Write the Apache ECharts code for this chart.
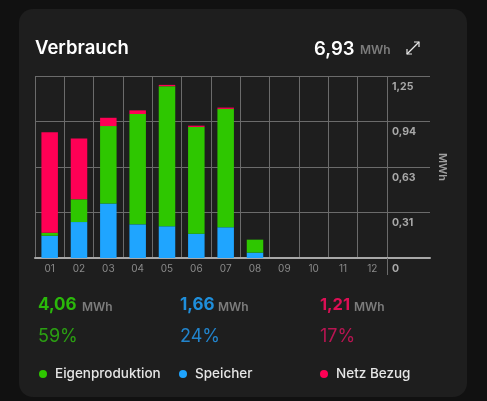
<!DOCTYPE html>
<html><head><meta charset="utf-8">
<style>html,body{margin:0;padding:0;background:#111111}#c{width:487px;height:401px}</style>
<script src="https://cdn.jsdelivr.net/npm/echarts@6/dist/echarts.min.js"></script>
</head><body><div id="c"></div>
<script>
const months = ['01','02','03','04','05','06','07','08','09','10','11','12'];
const speicher = [0.153,0.247,0.375,0.231,0.218,0.167,0.211,0.037,0,0,0,0];
const eigen = [0.020,0.156,0.531,0.758,0.962,0.733,0.813,0.089,0,0,0,0];
const netz = [0.690,0.417,0.057,0.025,0.009,0.009,0.009,0,0,0,0,0];
const yMax = 1.25;
const yTicks = {0:'0',0.3125:'0,31',0.625:'0,63',0.9375:'0,94',1.25:'1,25'};
const GREEN='#2ec700', BLUE='#1fa5ff', RED='#ff0055';
const FF='Inter, "Noto Sans", sans-serif';
const gl={color:'#6b6b6b',width:1};
const chart=echarts.init(document.getElementById('c'),null,{renderer:'canvas'});
function txt(x,y,t,size,weight,fill,extra){return {type:'text',x,y,silent:true,style:Object.assign({text:t,fontFamily:FF,fontSize:size,fontWeight:weight,fill,textVerticalAlign:'middle',verticalAlign:'middle'},extra||{})};}
const leg=(name,left)=>({data:[{name,icon:'circle'}],left,top:362,itemWidth:8,itemHeight:8,itemGap:8,textStyle:{color:'#e6e6e6',fontFamily:FF,fontSize:13.5,fontWeight:500,padding:[0,0,0,3]},selectedMode:false});
chart.setOption({
  animation:false,
  backgroundColor:'#111111',
  grid:[{left:35,width:352,top:76,height:182},{left:387,width:43,top:76,height:182}],
  xAxis:[
    {type:'category',gridIndex:0,data:months,axisTick:{show:false},
     axisLine:{lineStyle:{color:'#a8a8a8',width:2}},
     axisLabel:{color:'#8a8a8a',fontSize:10,fontFamily:FF,margin:6,interval:0},
     splitLine:{show:true,interval:0,lineStyle:gl}},
    {type:'value',gridIndex:1,min:0,max:1,axisLabel:{show:false},splitLine:{show:false},
     axisLine:{lineStyle:{color:'#a8a8a8',width:2}},
     axisTick:{show:true,customValues:[0],length:17,lineStyle:gl}}
  ],
  yAxis:[
    {type:'value',gridIndex:0,min:0,max:yMax,interval:0.3125,axisLabel:{show:false},axisLine:{show:false},axisTick:{show:false},splitLine:{lineStyle:gl}},
    {type:'value',gridIndex:1,position:'right',min:0,max:yMax,interval:0.3125,axisLine:{show:false},axisTick:{show:false},splitLine:{lineStyle:gl},
     axisLabel:{inside:true,margin:38,align:'left',verticalAlign:'top',padding:[5,0,0,0],color:'#a8a8a8',fontSize:10.5,fontWeight:700,fontFamily:FF,formatter:v=>yTicks[v]},
     name:'MWh',nameLocation:'middle',nameGap:7,nameRotate:-90,nameTextStyle:{color:'#a0a0a0',fontSize:11,fontWeight:600,fontFamily:FF}}
  ],
  legend:[leg('Eigenproduktion',34),leg('Speicher',174),leg('Netz Bezug',315)],
  series:[
    {name:'Speicher',type:'bar',stack:'a',data:speicher,barWidth:16.5,itemStyle:{color:BLUE},xAxisIndex:0,yAxisIndex:0},
    {name:'Eigenproduktion',type:'bar',stack:'a',data:eigen,barWidth:16.5,itemStyle:{color:GREEN},xAxisIndex:0,yAxisIndex:0},
    {name:'Netz Bezug',type:'bar',stack:'a',data:netz,barWidth:16.5,itemStyle:{color:RED},xAxisIndex:0,yAxisIndex:0}
  ],
  graphic:[
    {type:'rect',z:-10,silent:true,shape:{x:19,y:9,width:448,height:388,r:14},style:{fill:'#1e1e1e'}},
    txt(35,48,'Verbrauch',18.5,600,'#ffffff'),
    txt(314,49,'6,93',18.5,600,'#ffffff'),
    txt(360,50,'MWh',12,600,'#7c7c7c'),
    txt(38,305,'4,06',17,700,'#2ab80a'),txt(82,307,'MWh',12,600,'#7c7c7c'),
    txt(180,305,'1,66',17,700,'#1f8fdc'),txt(218,307,'MWh',12,600,'#7c7c7c'),
    txt(320,305,'1,21',16.5,700,'#dc0f55'),txt(354,307,'MWh',12,600,'#7c7c7c'),
    txt(38,337,'59%',18,400,'#2ba012'),
    txt(180,337,'24%',18,400,'#2284cc'),
    txt(320,337,'17%',18,400,'#b81552'),
    {type:'polyline',silent:true,shape:{points:[[407,54],[419,42]]},style:{stroke:'#e8e8e8',lineWidth:1.2,fill:null}},
    {type:'polyline',silent:true,shape:{points:[[407,49],[407,54],[412,54]]},style:{stroke:'#e8e8e8',lineWidth:1.2,fill:null}},
    {type:'polyline',silent:true,shape:{points:[[414,42],[419,42],[419,47]]},style:{stroke:'#e8e8e8',lineWidth:1.2,fill:null}}
  ]
});
</script></body></html>
